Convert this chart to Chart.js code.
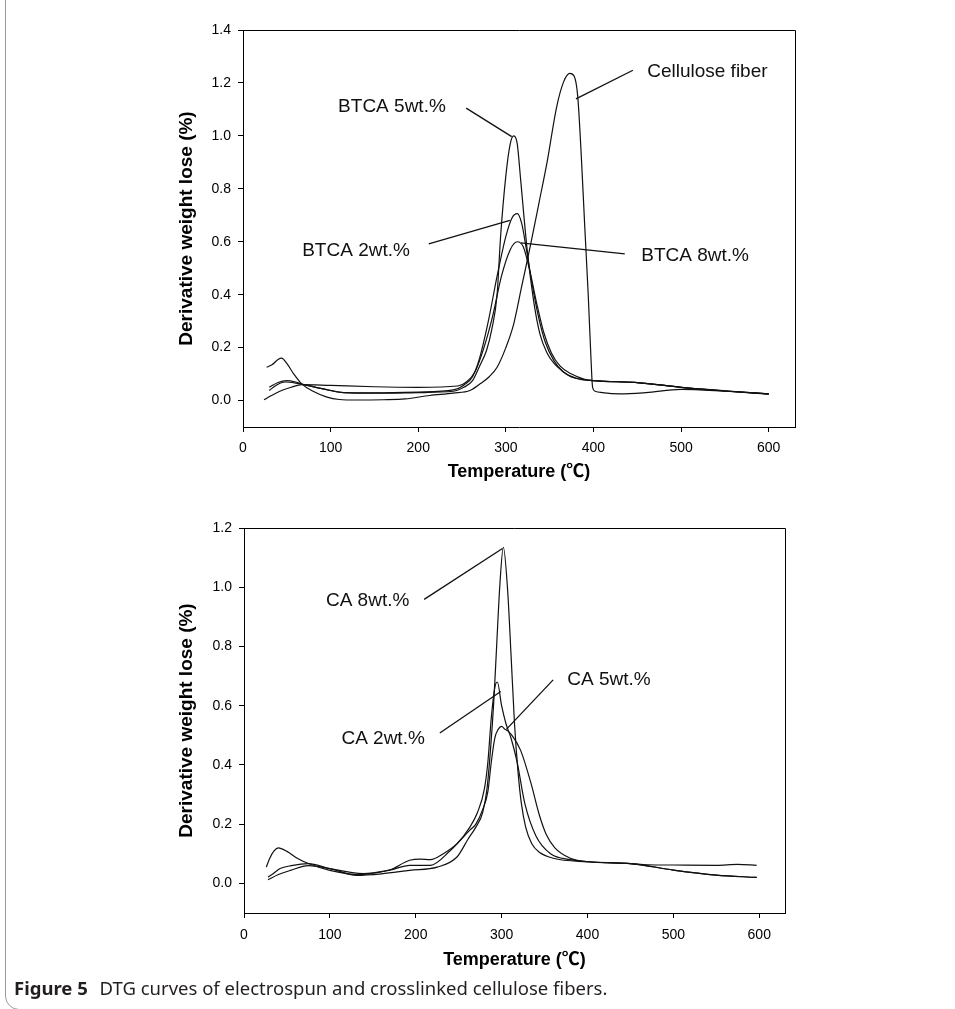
<!DOCTYPE html>
<html>
<head>
<meta charset="utf-8">
<script src="https://cdn.jsdelivr.net/npm/chart.js@4.4.0/dist/chart.umd.min.js"></script>
<style>
  html, body { margin: 0; padding: 0; background: #fff; }
  body { width: 955px; height: 1009px; position: relative; overflow: hidden; }
  .moldura {
    position: absolute; left: 5px; top: -20px; width: 1000px; height: 1030px;
    border: 1px solid #9a9a9a; border-radius: 14px; box-sizing: border-box;
  }
  canvas { position: absolute; left: 0; }
  #grafico-btca { top: 0; }
  #grafico-ca { top: 490px; }
  .legenda-figura {
    position: absolute; left: 14px; top: 975px;
    font-family: 'Noto Sans', sans-serif; font-size: 18.5px; color: #231f20; white-space: nowrap;
  }
  .legenda-figura b { margin-right: 7px; }
</style>
</head>
<body>
<div class="moldura"></div>
<canvas id="grafico-btca" width="955" height="490"></canvas>
<canvas id="grafico-ca" width="955" height="490"></canvas>
<div class="legenda-figura"><b>Figure 5</b> DTG curves of electrospun and crosslinked cellulose fibers.</div>

<script>
// eixos
const ticksTemperatura = [0, 100, 200, 300, 400, 500, 600]
const ticksDtgBtca = [0, 0.2, 0.4, 0.6, 0.8, 1.0, 1.2, 1.4]
const ticksDtgCa = [0, 0.2, 0.4, 0.6, 0.8, 1.0, 1.2]

// grafico de cima: fibra de celulose e BTCA
const tempCelulose = [27, 33, 40, 44, 50, 58, 67, 80, 95, 110, 130, 160, 185, 213, 240, 259, 271, 281, 290, 300, 309, 318, 328, 338, 347, 358, 366, 373, 378, 382, 386, 390, 394, 397, 399, 402, 410, 430, 460, 500, 550, 600]
const dtgCelulose = [0.126, 0.135, 0.155, 0.16, 0.14, 0.1, 0.063, 0.035, 0.014, 0.004, 0.002, 0.003, 0.006, 0.019, 0.028, 0.038, 0.064, 0.09, 0.126, 0.2, 0.29, 0.43, 0.585, 0.75, 0.9, 1.11, 1.205, 1.236, 1.225, 1.15, 0.93, 0.66, 0.4, 0.17, 0.05, 0.035, 0.03, 0.025, 0.03, 0.042, 0.035, 0.025]

const tempBtca5 = [30, 40, 50, 60, 70, 90, 115, 150, 200, 240, 252, 262, 270, 278, 284, 290, 294, 300, 305, 309, 313, 317, 324, 332, 339, 347, 355, 365, 374, 385, 397, 420, 450, 500, 550, 600]
const dtgBtca5 = [0.05, 0.068, 0.075, 0.07, 0.06, 0.045, 0.03, 0.028, 0.03, 0.035, 0.05, 0.075, 0.13, 0.19, 0.27, 0.4, 0.62, 0.85, 0.97, 1.0, 0.97, 0.83, 0.58, 0.37, 0.25, 0.18, 0.14, 0.11, 0.09, 0.08, 0.076, 0.072, 0.068, 0.05, 0.036, 0.024]

const tempBtca2 = [30, 38, 48, 60, 72, 90, 115, 150, 200, 240, 252, 262, 270, 280, 290, 300, 307, 313, 318, 323, 330, 337, 345, 355, 365, 380, 400, 450, 500, 550, 600]
const dtgBtca2 = [0.038, 0.058, 0.07, 0.066, 0.058, 0.045, 0.03, 0.029, 0.032, 0.04, 0.058, 0.09, 0.16, 0.3, 0.47, 0.62, 0.69, 0.706, 0.67, 0.58, 0.44, 0.32, 0.22, 0.15, 0.11, 0.085, 0.075, 0.068, 0.05, 0.037, 0.025]

const tempBtca8 = [24, 32, 42, 55, 67, 100, 150, 200, 245, 255, 265, 275, 285, 295, 305, 313, 320, 328, 335, 343, 352, 362, 375, 390, 400, 450, 500, 550, 600]
const dtgBtca8 = [0.003, 0.018, 0.035, 0.05, 0.06, 0.057, 0.052, 0.05, 0.055, 0.07, 0.11, 0.2, 0.32, 0.47, 0.57, 0.6, 0.58, 0.48, 0.37, 0.26, 0.18, 0.13, 0.1, 0.08, 0.075, 0.068, 0.05, 0.036, 0.025]

// grafico de baixo: CA
const tempCa8 = [28, 40, 54, 75, 100, 131, 160, 193, 225, 248, 261, 270, 278, 283, 287, 291, 294, 298, 302, 307, 311, 315, 319, 323, 328, 335, 344, 360, 400, 450, 500, 550, 597]
const dtgCa8 = [0.012, 0.03, 0.044, 0.06, 0.05, 0.027, 0.032, 0.044, 0.055, 0.089, 0.15, 0.19, 0.24, 0.32, 0.45, 0.62, 0.79, 1.01, 1.135, 0.99, 0.77, 0.54, 0.38, 0.27, 0.19, 0.135, 0.105, 0.085, 0.073, 0.067, 0.045, 0.028, 0.02]

const tempCa2 = [26, 30, 35, 40, 50, 62, 75, 100, 131, 147, 170, 193, 205, 217, 232, 248, 263, 272, 280, 284, 288, 292, 295, 300, 305, 311, 318, 327, 340, 357, 380, 400, 450, 470, 500, 550, 575, 597]
const dtgCa2 = [0.055, 0.085, 0.11, 0.12, 0.108, 0.085, 0.067, 0.044, 0.03, 0.033, 0.046, 0.078, 0.082, 0.08, 0.1, 0.134, 0.19, 0.24, 0.32, 0.41, 0.56, 0.66, 0.68, 0.6, 0.54, 0.49, 0.41, 0.27, 0.16, 0.1, 0.08, 0.073, 0.067, 0.063, 0.062, 0.061, 0.064, 0.061]

const tempCa5 = [28, 35, 42, 55, 75, 100, 139, 170, 193, 217, 240, 263, 270, 278, 284, 288, 292, 296, 300, 304, 307, 312, 322, 334, 344, 352, 362, 380, 400, 450, 500, 550, 597]
const dtgCa5 = [0.021, 0.035, 0.05, 0.06, 0.067, 0.05, 0.033, 0.045, 0.061, 0.061, 0.11, 0.18, 0.2, 0.25, 0.31, 0.41, 0.49, 0.52, 0.53, 0.52, 0.515, 0.5, 0.45, 0.34, 0.23, 0.165, 0.12, 0.085, 0.073, 0.067, 0.045, 0.028, 0.02]

// rotulos e linhas de chamada: [texto, x, y] e [x1, y1, x2, y2]
const rotulosBtca = [
  ['BTCA 5wt.%', 170, 1.11],
  ['Cellulose fiber', 530, 1.244],
  ['BTCA 2wt.%', 129, 0.567],
  ['BTCA 8wt.%', 516, 0.548]
]
const chamadasBtca = [
  [254.7, 1.105, 306.7, 0.997],
  [445, 1.248, 380, 1.14],
  [212, 0.592, 304.6, 0.681],
  [435.7, 0.554, 317, 0.596]
]
const rotulosCa = [
  ['CA 8wt.%', 144, 0.955],
  ['CA 5wt.%', 425, 0.687],
  ['CA 2wt.%', 162, 0.49]
]
const chamadasCa = [
  [209.8, 0.959, 301, 1.131],
  [360, 0.687, 305.5, 0.52],
  [228, 0.508, 299, 0.648]
]

Chart.defaults.font.family = "'Liberation Sans', 'Noto Sans CJK SC', Arial, sans-serif"
Chart.defaults.color = '#000'

function serie(temps, valores) {
  return {
    data: temps.map((t, i) => ({ x: t, y: valores[i] })),
    borderColor: '#111',
    borderWidth: 1.2,
    pointRadius: 0,
    fill: false,
    cubicInterpolationMode: 'monotone'
  }
}

function chamada(c) {
  return {
    data: [{ x: c[0], y: c[1] }, { x: c[2], y: c[3] }],
    borderColor: '#111',
    borderWidth: 1.3,
    pointRadius: 0,
    fill: false,
    tension: 0
  }
}

// moldura do grafico e textos dos rotulos
function pluginRotulos(rotulos) {
  return {
    id: 'rotulos',
    afterDatasetsDraw(chart) {
      const { ctx, chartArea: a, scales } = chart
      ctx.save()
      ctx.strokeStyle = '#000'
      ctx.lineWidth = 1
      ctx.beginPath()
      ctx.moveTo(a.left, Math.round(a.top) + 0.5)
      ctx.lineTo(Math.round(a.right) + 0.5, Math.round(a.top) + 0.5)
      ctx.lineTo(Math.round(a.right) + 0.5, a.bottom)
      ctx.stroke()
      ctx.font = "19px 'Liberation Sans', Arial, sans-serif"
      ctx.fillStyle = '#111'
      ctx.textAlign = 'center'
      ctx.textBaseline = 'middle'
      rotulos.forEach(r => {
        ctx.fillText(r[0], scales.x.getPixelForValue(r[1]), scales.y.getPixelForValue(r[2]))
      })
      ctx.restore()
    }
  }
}

function criarGrafico(id, series, chamadas, rotulos, ticksY, maxY, geo) {
  const ctx = document.getElementById(id).getContext('2d')
  return new Chart(ctx, {
    type: 'line',
    data: { datasets: [...series, ...chamadas.map(chamada)] },
    options: {
      responsive: false,
      animation: false,
      layout: { padding: geo.padding },
      plugins: { legend: { display: false }, tooltip: { enabled: false } },
      scales: {
        x: {
          type: 'linear',
          min: 0,
          max: 630,
          afterBuildTicks: s => { s.ticks = ticksTemperatura.map(v => ({ value: v })) },
          afterFit: s => { s.height = geo.alturaX },
          grid: { drawOnChartArea: false, tickLength: 5, color: '#000' },
          border: { color: '#000', width: 1 },
          ticks: { font: { size: 14 }, padding: geo.padX, color: '#000' },
          title: {
            display: true,
            text: 'Temperature (\u2103)',
            font: { size: 18, weight: 'bold' },
            padding: 0,
            color: '#000'
          }
        },
        y: {
          min: -0.1,
          max: maxY,
          afterBuildTicks: s => { s.ticks = ticksY.map(v => ({ value: v })) },
          afterFit: s => { s.width = geo.larguraY },
          grid: { drawOnChartArea: false, tickLength: 5, color: '#000' },
          border: { color: '#000', width: 1 },
          ticks: { font: { size: 14 }, padding: 7, color: '#000', callback: v => v.toFixed(1) },
          title: {
            display: true,
            text: 'Derivative weight lose (%)',
            font: { size: 19, weight: 'bold' },
            padding: 0,
            color: '#000'
          }
        }
      }
    },
    plugins: [pluginRotulos(rotulos)]
  })
}

criarGrafico(
  'grafico-btca',
  [
    serie(tempCelulose, dtgCelulose),
    serie(tempBtca5, dtgBtca5),
    serie(tempBtca2, dtgBtca2),
    serie(tempBtca8, dtgBtca8)
  ],
  chamadasBtca,
  rotulosBtca,
  ticksDtgBtca,
  1.4,
  { padding: { left: 175, right: 160, top: 30, bottom: 7 }, larguraY: 68, alturaX: 56, padX: 8 }
)

criarGrafico(
  'grafico-ca',
  [
    serie(tempCa8, dtgCa8),
    serie(tempCa2, dtgCa2),
    serie(tempCa5, dtgCa5)
  ],
  chamadasCa,
  rotulosCa,
  ticksDtgCa,
  1.2,
  { padding: { left: 175, right: 170, top: 38, bottom: 9 }, larguraY: 69, alturaX: 58, padX: 9 }
)
</script>
</body>
</html>
